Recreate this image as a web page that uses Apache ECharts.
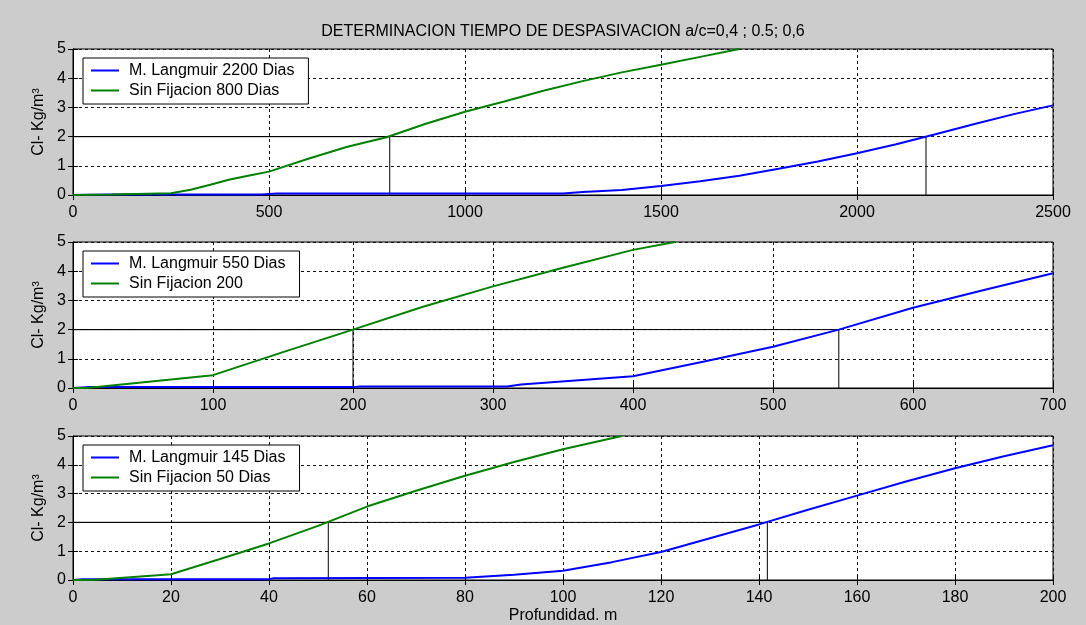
<!DOCTYPE html>
<html>
<head>
<meta charset="utf-8">
<script src="https://cdn.jsdelivr.net/npm/echarts@6/dist/echarts.min.js"></script>
<style>
  html, body { margin: 0; padding: 0; background: #cccccc; }
  #chart { width: 1086px; height: 625px; }
</style>
</head>
<body>
<div id="chart"></div>
<script>
// Chloride concentration (kg/m3) versus depth for three water/cement ratios.
const titleText = 'DETERMINACION TIEMPO DE DESPASIVACION a/c=0,4 ; 0.5; 0,6';
const yAxisTitle = 'Cl- Kg/m³';
const xAxisTitle = 'Profundidad. m';

// Axis ranges per panel
const depthMax = [2500, 700, 200];
const depthStep = [500, 100, 20];
const clMax = 5;
const clStep = 1;

// Legend names per panel
const langmuirNames = ['M. Langmuir 2200 Dias', 'M. Langmuir 550 Dias', 'M. Langmuir 145 Dias'];
const sinFijacionNames = ['Sin Fijacion 800 Dias', 'Sin Fijacion 200', 'Sin Fijacion 50 Dias'];

// Panel 1: a/c = 0,4
const depthLangmuir1 = [0, 100, 480, 520, 1250, 1300, 1400, 1500, 1600, 1700, 1800, 1900, 2000, 2100, 2200, 2300, 2400, 2500];
const clLangmuir1 = [0, 0.02, 0.02, 0.05, 0.05, 0.1, 0.17, 0.31, 0.47, 0.66, 0.9, 1.15, 1.43, 1.74, 2.08, 2.43, 2.77, 3.07];
const depthSin1 = [0, 100, 250, 300, 350, 400, 450, 500, 600, 700, 800, 900, 1000, 1100, 1200, 1300, 1400, 1500, 1600, 1700];
const clSin1 = [0, 0.02, 0.06, 0.18, 0.35, 0.53, 0.67, 0.8, 1.24, 1.65, 1.98, 2.44, 2.85, 3.2, 3.57, 3.9, 4.2, 4.46, 4.73, 5.0];

// Panel 2: a/c = 0,5
const depthLangmuir2 = [0, 10, 200, 205, 310, 320, 400, 450, 500, 547, 600, 650, 700];
const clLangmuir2 = [0, 0.03, 0.03, 0.05, 0.05, 0.12, 0.4, 0.9, 1.41, 2.0, 2.75, 3.35, 3.93];
const depthSin2 = [0, 10, 100, 150, 200, 250, 300, 350, 400, 430];
const clSin2 = [0, 0, 0.44, 1.23, 2.0, 2.78, 3.48, 4.12, 4.73, 5.0];

// Panel 3: a/c = 0,6
const depthLangmuir3 = [0, 2, 40, 41, 80, 90, 100, 110, 120, 130, 140, 150, 160, 170, 180, 190, 200];
const clLangmuir3 = [0, 0.03, 0.03, 0.06, 0.08, 0.18, 0.32, 0.62, 0.97, 1.45, 1.93, 2.44, 2.93, 3.42, 3.88, 4.3, 4.68];
const depthSin3 = [0, 4, 20, 30, 40, 50, 60, 70, 80, 90, 100, 112];
const clSin3 = [0, 0, 0.2, 0.73, 1.27, 1.88, 2.55, 3.1, 3.62, 4.1, 4.54, 5.0];

// Depassivation threshold and the depths where each curve reaches it
const clThreshold = 2;
const thresholdDepthSin = [808, 200, 52.1];
const thresholdDepthLangmuir = [2176, 547, 141.7];

const langmuirDepths = [depthLangmuir1, depthLangmuir2, depthLangmuir3];
const langmuirCl = [clLangmuir1, clLangmuir2, clLangmuir3];
const sinDepths = [depthSin1, depthSin2, depthSin3];
const sinCl = [clSin1, clSin2, clSin3];

const FONT = '"Liberation Sans", Arial, sans-serif';
const FS = 16;
const INK = '#000000';
const pairs = (xs, ys) => xs.map((x, i) => [x, ys[i]]);
const plain = v => String(v);

const gridTops = [49, 242, 436];
const plotLeft = 73, plotWidth = 980, plotHeight = 146;

const grid = [], xAxis = [], yAxis = [], series = [], legend = [];

gridTops.forEach((top, i) => {
  grid.push({
    left: plotLeft, top: top, width: plotWidth, height: plotHeight,
    show: true, backgroundColor: '#ffffff', borderColor: INK, borderWidth: 1
  });

  const dashed = { show: true, lineStyle: { color: '#111', width: 1, type: [3, 3] } };
  const ticks = { show: true, inside: true, length: 5, lineStyle: { color: INK } };

  // main axes
  xAxis.push({
    type: 'value', gridIndex: i, min: 0, max: depthMax[i], interval: depthStep[i],
    position: 'bottom',
    axisLine: { show: true, lineStyle: { color: INK } },
    axisTick: ticks,
    axisLabel: { color: INK, fontSize: FS, fontFamily: FONT, margin: 10, formatter: plain },
    splitLine: dashed,
    name: i === 2 ? xAxisTitle : '',
    nameLocation: 'middle', nameGap: 28,
    nameTextStyle: { color: INK, fontSize: FS, fontFamily: FONT }
  });
  yAxis.push({
    type: 'value', gridIndex: i, min: 0, max: clMax, interval: clStep,
    position: 'left',
    axisLine: { show: true, lineStyle: { color: INK } },
    axisTick: ticks,
    axisLabel: { color: INK, fontSize: FS, fontFamily: FONT, margin: 7, formatter: plain },
    splitLine: dashed,
    name: yAxisTitle, nameLocation: 'middle', nameGap: 26, nameRotate: 90,
    nameTextStyle: { color: INK, fontSize: FS, fontFamily: FONT }
  });
  // box-side tick marks (top and right)
  xAxis.push({
    type: 'value', gridIndex: i, min: 0, max: depthMax[i], interval: depthStep[i],
    position: 'top',
    axisLine: { show: true, lineStyle: { color: INK } },
    axisTick: ticks, axisLabel: { show: false }, splitLine: { show: false }
  });
  yAxis.push({
    type: 'value', gridIndex: i, min: 0, max: clMax, interval: clStep,
    position: 'right',
    axisLine: { show: true, lineStyle: { color: INK } },
    axisTick: ticks, axisLabel: { show: false }, splitLine: { show: false }
  });

  const xi = i * 2, yi = i * 2;

  // threshold guide: vertical at the Sin Fijacion depth, horizontal at Cl=2, vertical at the Langmuir depth
  series.push({
    type: 'line', xAxisIndex: xi, yAxisIndex: yi, silent: true,
    symbol: 'none', animation: false,
    lineStyle: { color: INK, width: 1 },
    data: [
      [thresholdDepthSin[i], 0],
      [thresholdDepthSin[i], clThreshold],
      [0, clThreshold],
      [thresholdDepthLangmuir[i], clThreshold],
      [thresholdDepthLangmuir[i], 0]
    ]
  });

  series.push({
    name: langmuirNames[i], type: 'line', xAxisIndex: xi, yAxisIndex: yi,
    symbol: 'none', animation: false, clip: true,
    color: '#0000ff', lineStyle: { color: '#0000ff', width: 2 },
    data: pairs(langmuirDepths[i], langmuirCl[i])
  });
  series.push({
    name: sinFijacionNames[i], type: 'line', xAxisIndex: xi, yAxisIndex: yi,
    symbol: 'none', animation: false, clip: true,
    color: '#008000', lineStyle: { color: '#008000', width: 2 },
    data: pairs(sinDepths[i], sinCl[i])
  });

  legend.push({
    data: [langmuirNames[i], sinFijacionNames[i]],
    orient: 'vertical', left: 83, top: top + 9,
    backgroundColor: '#ffffff', borderColor: INK, borderWidth: 1, borderRadius: 0,
    padding: [4, 14, 5, 8], itemGap: 3,
    icon: 'rect', itemWidth: 28, itemHeight: 2,
    selectedMode: false,
    textStyle: { color: INK, fontSize: FS, fontFamily: FONT, lineHeight: 17, padding: [0, 0, 0, 5] }
  });
});

const chart = echarts.init(document.getElementById('chart'), null, { renderer: 'canvas' });
chart.setOption({
  backgroundColor: '#cccccc',
  animation: false,
  title: {
    text: titleText, left: 563, top: 24, textAlign: 'center', padding: 0,
    textStyle: { color: INK, fontSize: FS, fontWeight: 'normal', fontFamily: FONT }
  },
  grid, xAxis, yAxis, series, legend
});
</script>
</body>
</html>
